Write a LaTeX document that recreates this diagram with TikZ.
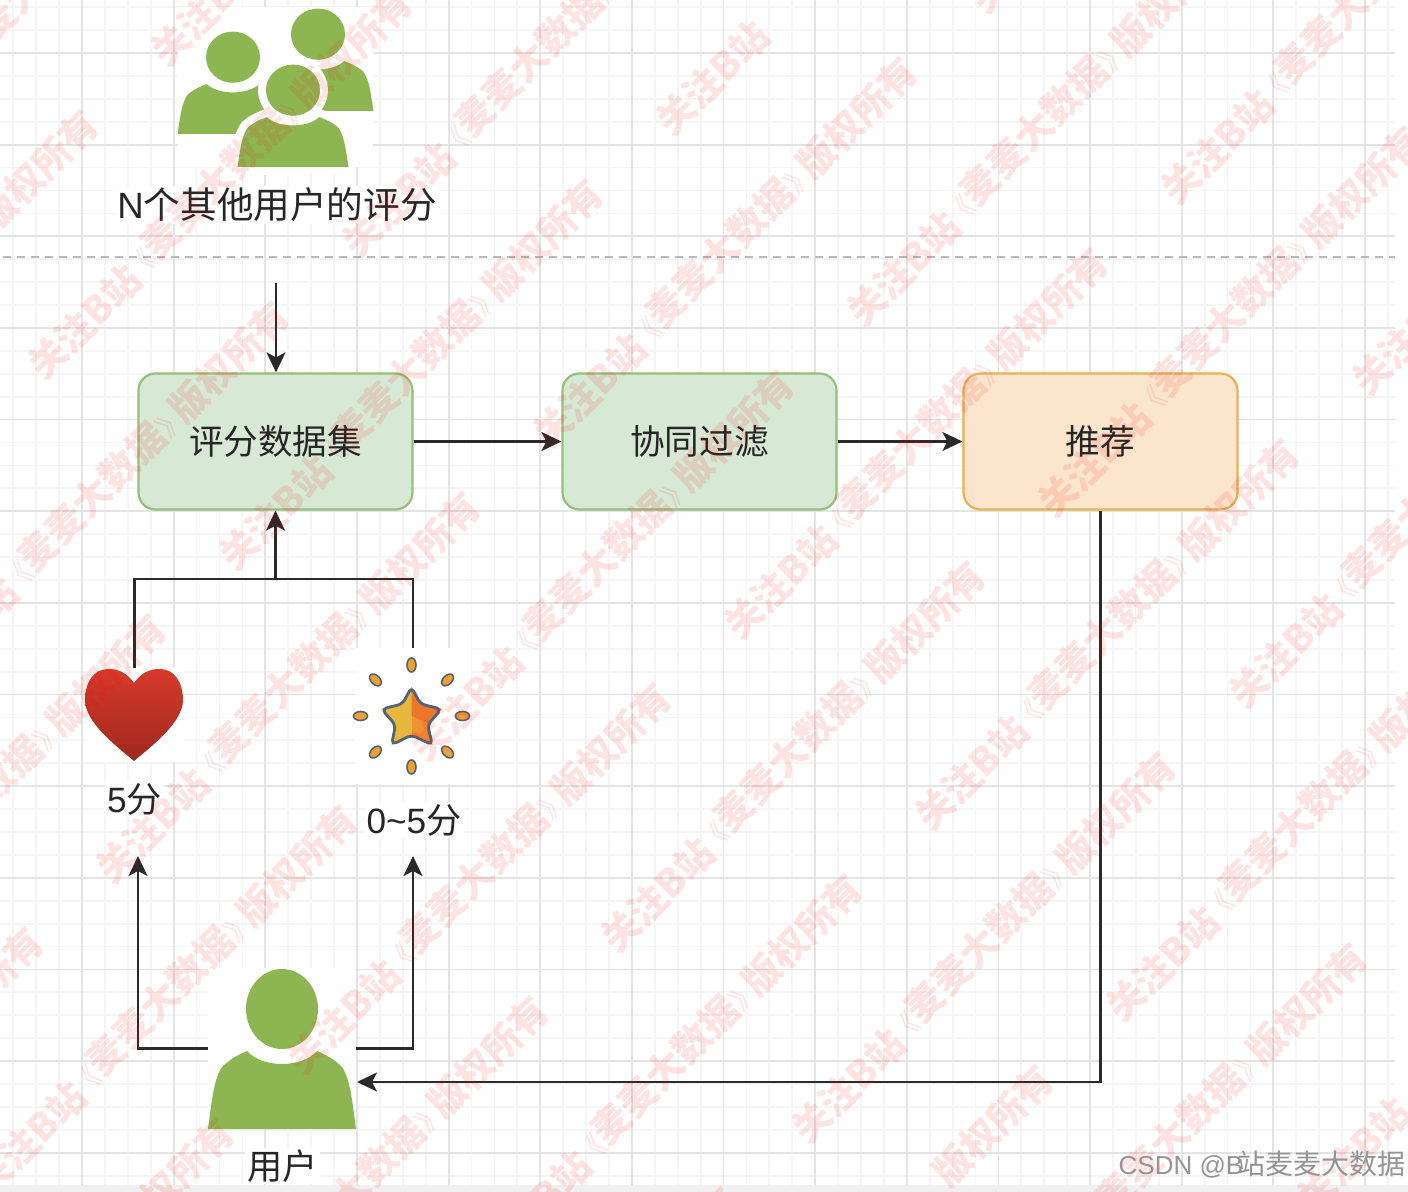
\documentclass[tikz,border=0pt]{standalone}
\usepackage{fontspec}
\setmainfont{Liberation Sans}
\newfontfamily\cjk{Noto Sans CJK SC}
\usetikzlibrary{arrows.meta, positioning}
\definecolor{gridMinorCol}{HTML}{F5F5F5}
\definecolor{gridMajorCol}{HTML}{E4E4E4}
\definecolor{personCol}{HTML}{8DB652}
\definecolor{lineCol}{HTML}{2A2A2A}
\tikzset{
    gridMinor/.style={draw=gridMinorCol, line width=0.9pt},
    gridMajor/.style={draw=gridMajorCol, line width=0.9pt},
    dividerLine/.style={draw=black!27, line width=0.9pt, dash pattern=on 4pt off 3pt},
    stageBox/.style={rectangle, rounded corners=8.5pt, line width=1.1pt, minimum width=137pt, minimum height=68pt, inner sep=0pt, text=black!85, font=\fontsize{17.3}{20}\selectfont\cjk},
    greenBox/.style={stageBox, draw={rgb,255:red,150;green,190;blue,125}, fill={rgb,255:red,215;green,232;blue,213}},
    orangeBox/.style={stageBox, draw={rgb,255:red,232;green,178;blue,80}, fill={rgb,255:red,251;green,229;blue,205}},
    iconBack/.style={rectangle, fill=white, inner sep=0pt},
    textLabel/.style={fill=white, inner sep=1pt, text=black!85, font=\fontsize{17.6}{20}\selectfont},
    flowLine/.style={draw=lineCol, line width=1.15pt},
    flowArrow/.style={flowLine, -{Stealth[length=10pt, width=9.5pt, inset=2.5pt]}},
    personFill/.style={fill=personCol},
    personHalo/.style={draw=white, line width=8pt, line join=round},
    starDot/.style={draw={rgb,255:red,82;green,100;blue,120}, line width=0.8pt, fill={rgb,255:red,238;green,160;blue,50}},
    starEdge/.style={draw={rgb,255:red,82;green,100;blue,120}, line width=1.4pt, line join=round},
    waterMark/.style={text=red, text opacity=0.11, rotate=45, inner sep=0pt, font=\fontsize{19}{20}\selectfont\cjk\bfseries},
}
\newcommand{\drawPerson}[5][personFill]{
    \begin{scope}[shift={(#2,#3)}, xscale=#4, yscale=#5]
        \path[#1] (0,-120) ellipse (36 and 40);
        \path[#1] (-74,0) .. controls (-70,-30) and (-68,-50) .. (-60,-62)
            .. controls (-52,-70) and (-44,-74) .. (-35,-78)
            .. controls (-28,-70) and (-15,-65) .. (0,-65)
            .. controls (15,-65) and (28,-70) .. (35,-78)
            .. controls (44,-74) and (52,-70) .. (60,-62)
            .. controls (68,-50) and (70,-30) .. (74,0) -- cycle;
    \end{scope}
}
\newcommand{\starOutline}{(0,-29) -- (9,-12) -- (30,-7) -- (16,9) -- (21,29) -- (0,19) -- (-20,29) -- (-16,9) -- (-30,-7) -- (-9,-12) -- cycle}
% only marks that reach the page are set
\newcommand{\putMark}[4]{
    \pgfmathparse{(#1>-60 && #1<1468 && #2>-60 && #2<1252) ? 1 : 0}
    \ifnum\pgfmathresult>0
        \node[waterMark] (#3) at (#1,#2) {#4};
    \fi
}
\newcommand{\thinMark}[1]{{\mdseries\fontsize{14}{14}\selectfont #1}}

\begin{document}
\begin{tikzpicture}[x=0.5pt, y=-0.5pt]
    \useasboundingbox (0,0) rectangle (1408,1192);

    % grid
    \foreach \i in {0,...,61} {
        \pgfmathsetmacro{\gx}{-9.6+22.91*\i}
        \draw[gridMinor] (\gx,0) -- (\gx,1185);
    }
    \foreach \i in {0,...,53} {
        \pgfmathsetmacro{\gy}{-38.6+22.91*\i}
        \draw[gridMinor] (0,\gy) -- (1395,\gy);
    }
    \foreach \i in {0,...,15} {
        \pgfmathsetmacro{\gx}{-9.6+91.64*\i}
        \draw[gridMajor] (\gx,0) -- (\gx,1185);
    }
    \foreach \i in {0,...,13} {
        \pgfmathsetmacro{\gy}{-38.6+91.64*\i}
        \draw[gridMajor] (0,\gy) -- (1395,\gy);
    }
    \fill[white] (1395,0) rectangle (1408,1185);
    \fill[black!6] (0,1185) rectangle (1408,1192);

    \coordinate (dividerL) at (3,257);
    \coordinate (dividerR) at (1395,257);
    \draw[dividerLine] (dividerL) -- (dividerR);

    % icons and labels
    \node[iconBack, minimum width=97.5pt, minimum height=80pt] (groupIcon) at (275.5,87) {};
    \node[textLabel, font=\fontsize{18.3}{20}\selectfont] (groupLabel) at (277,205) {N{\cjk 个其他用户的评分}};

    \node[greenBox] (ratingBox) at (275.5,441.5) {评分数据集};
    \node[greenBox] (cfBox) at (699.5,441.5) {协同过滤};
    \node[orangeBox] (recBox) at (1100.5,441.5) {推荐};

    \node[iconBack, minimum width=49pt, minimum height=47pt] (heartIcon) at (134.5,715) {};
    \node[iconBack, minimum width=58pt, minimum height=68pt] (starIcon) at (413,716) {};
    \node[textLabel] (fiveLabel) at (134.5,799) {5{\cjk 分}};
    \node[textLabel] (rangeLabel) at (414,820) {0\char"7E 5{\cjk 分}};

    \node[iconBack, minimum width=74pt, minimum height=80.5pt] (userIcon) at (282,1048.5) {};
    \node[textLabel] (userLabel) at (282.5,1166) {\cjk 用户};

    \drawPerson{318}{111}{0.75}{0.64}
    \drawPerson{233}{134}{0.75}{0.64}
    \drawPerson[personHalo]{293}{167}{0.75}{0.64}
    \drawPerson{293}{167}{0.75}{0.64}
    \drawPerson{282}{1129}{1}{1}

    \shade[top color={rgb,255:red,214;green,58;blue,44}, bottom color={rgb,255:red,160;green,40;blue,30}]
        (134,683) .. controls (126,672) and (118,669) .. (108,669)
        .. controls (94,669) and (85,682) .. (85,700)
        .. controls (85,722) and (115,745) .. (134,761)
        .. controls (153,745) and (183,722) .. (183,700)
        .. controls (183,682) and (174,669) .. (160,669)
        .. controls (150,669) and (142,672) .. (134,683) -- cycle;

    \begin{scope}[shift={(411.5,716)}]
        \foreach \ang in {0,45,...,315} {
            \draw[starDot, shift={(\ang:51)}, rotate=-\ang] (0,0) ellipse (7 and 4.5);
        }
        \begin{scope}
            \clip \starOutline;
            \fill[fill={rgb,255:red,232;green,184;blue,60}] (-35,-35) rectangle (0,35);
            \fill[fill={rgb,255:red,238;green,146;blue,52}] (0,-35) rectangle (35,35);
            \fill[fill={rgb,255:red,236;green,118;blue,42}] (0,-35) -- (0,0) -- (35,15) -- (35,-35) -- cycle;
        \end{scope}
        \draw[starEdge, rounded corners=2.5pt] \starOutline;
    \end{scope}

    % free ends of the connectors
    \coordinate (ratingIn) at (276,283);
    \coordinate (mergePt) at (275.5,579);
    \coordinate (fiveIn) at (138,856);
    \coordinate (rangeIn) at (413,856);
    \coordinate (userIn) at (357,1082);

    \draw[flowArrow] (ratingIn) -- (ratingIn |- ratingBox.north);
    \draw[flowArrow] (ratingBox.east) -- (cfBox.west);
    \draw[flowArrow] (cfBox.east) -- (recBox.west);
    \draw[flowLine] (heartIcon.north) |- (mergePt);
    \draw[flowLine] (starIcon.north) |- (mergePt);
    \draw[flowArrow] (mergePt) -- (ratingBox.south);
    \draw[flowArrow] (userIcon.west) -| (fiveIn);
    \draw[flowArrow] (userIcon.east) -| (rangeIn);
    \draw[flowArrow] (recBox.south) |- (userIn);

    % watermark
    \foreach \i in {-5,...,6} {
        \foreach \j in {-4,...,5} {
            \pgfmathsetmacro{\wx}{712+191*\i-314*\j}
            \pgfmathsetmacro{\wy}{78+191*\i+122*\j}
            \pgfmathsetmacro{\bx}{\wx+145}
            \pgfmathsetmacro{\by}{\wy+40}
            \pgfmathsetmacro{\cx}{\wx-183}
            \pgfmathsetmacro{\cy}{\wy-16}
            \putMark{\wx}{\wy}{wmA\i\j}{关注B站}
            \putMark{\bx}{\by}{wmB\i\j}{版权所有}
            \putMark{\cx}{\cy}{wmC\i\j}{\thinMark{《}麦麦大数据\thinMark{》}}
        }
    }

    \node[text=black!42, inner sep=0pt, font=\fontsize{13}{16}\selectfont] (csdnMark) at (1262,1165) {CSDN @B\hspace{-3pt}{\cjk\fontsize{14}{16}\selectfont 站麦麦大数据}};
\end{tikzpicture}
\end{document}
